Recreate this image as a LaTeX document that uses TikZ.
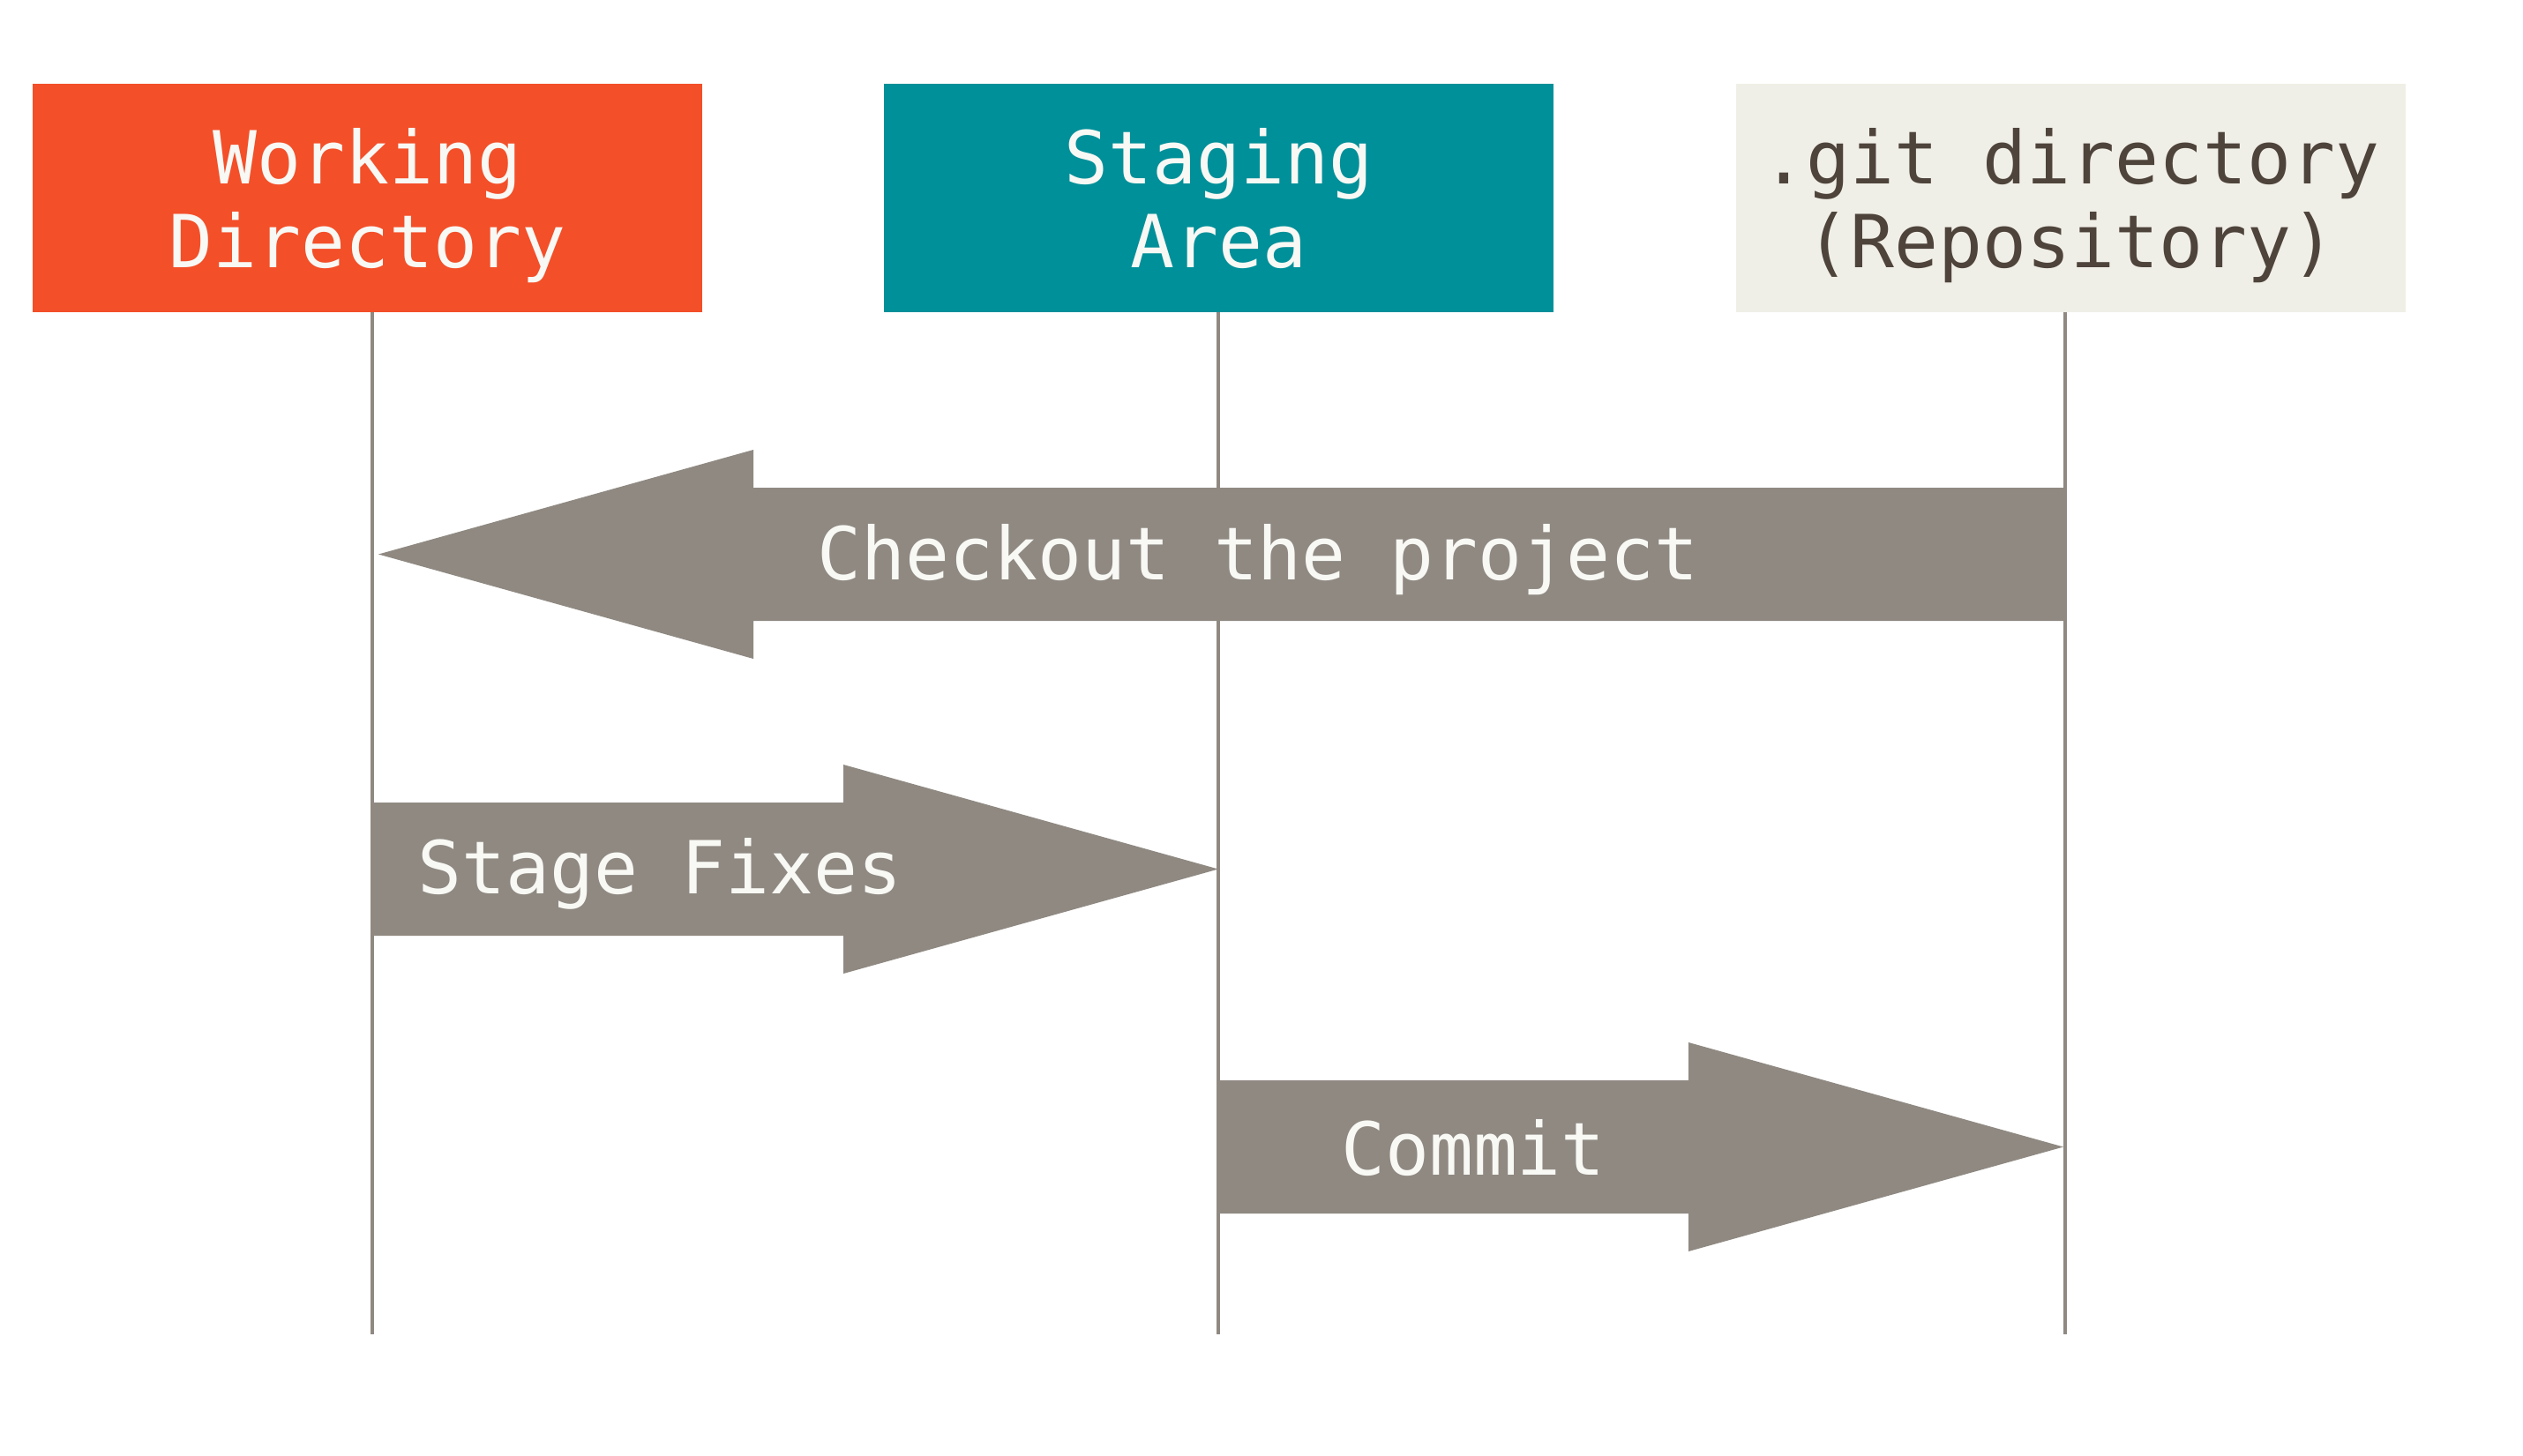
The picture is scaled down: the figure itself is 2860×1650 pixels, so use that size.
\documentclass[tikz,border=0pt]{standalone}
\usepackage{fontspec}
\setmonofont{DejaVu Sans Mono}
\usetikzlibrary{calc}
\definecolor{gitred}{HTML}{F34F29}
\definecolor{gitteal}{HTML}{009099}
\definecolor{gitgray}{HTML}{8F8982}
\definecolor{gitpaper}{HTML}{F0EFE7}
\definecolor{gitdark}{HTML}{4E443C}
\definecolor{gitwhite}{HTML}{F8F8F4}
\newcommand\gitRightArrow[2]{%
  \fill[gitgray] ($(#1)+(0,-75.5)$) -- ($(#2)+(-425,-75.5)$) -- ($(#2)+(-425,-118.5)$) -- (#2)
    -- ($(#2)+(-425,118.5)$) -- ($(#2)+(-425,75.5)$) -- ($(#1)+(0,75.5)$) -- cycle;}
\newcommand\gitLeftArrow[2]{%
  \fill[gitgray] ($(#1)+(0,-75.5)$) -- ($(#2)+(425,-75.5)$) -- ($(#2)+(425,-118.5)$) -- (#2)
    -- ($(#2)+(425,118.5)$) -- ($(#2)+(425,75.5)$) -- ($(#1)+(0,75.5)$) -- cycle;}
\begin{document}
\begin{tikzpicture}[x=1pt,y=-1pt,
  areabox/.style={rectangle, inner sep=0pt, minimum width=759pt, minimum height=259pt,
    text height=62pt, text depth=95pt, font=\ttfamily\fontsize{83}{95}\selectfont},
  lifeline/.style={draw=gitgray, line width=4pt},
  arrowlabel/.style={anchor=base, inner sep=0pt, text=gitwhite,
    font=\ttfamily\fontsize{83}{95}\selectfont}]
\fill[white] (0,0) rectangle (2860,1650);
\useasboundingbox (0,0) rectangle (2860,1650);

% boxes
\node[areabox, fill=gitred, text=gitwhite] (wd) at (416.5,224.5)
  {\parbox[t]{740pt}{\centering Working\\Directory}};
\node[areabox, fill=gitteal, text=gitwhite] (sa) at (1381.5,224.5)
  {\parbox[t]{740pt}{\centering Staging\\Area}};
\node[areabox, fill=gitpaper, text=gitdark] (git) at (2347.5,224.5)
  {\parbox[t]{740pt}{\centering .git directory\\(Repository)}};

% lifelines
\coordinate (wdend) at (422,1513);
\coordinate (saend) at (1381,1513);
\coordinate (gitend) at (2341,1513);
\draw[lifeline] (wd.south -| wdend) -- (wdend);
\draw[lifeline] (sa.south -| saend) -- (saend);
\draw[lifeline] (git.south -| gitend) -- (gitend);

% arrow end points on the lifelines
\coordinate (cotail) at (gitend |- 0,628.5);
\coordinate (cotip) at ($(wdend |- 0,628.5)+(7,0)$);
\coordinate (sftail) at (wdend |- 0,985.5);
\coordinate (sftip) at (saend |- 0,985.5);
\coordinate (cmtail) at (saend |- 0,1300.5);
\coordinate (cmtip) at ($(gitend |- 0,1300.5)+(-2,0)$);

\gitLeftArrow{cotail}{cotip}
\gitRightArrow{sftail}{sftip}
\gitRightArrow{cmtail}{cmtip}

\node[arrowlabel] (colabel) at (1426,657) {Checkout the project};
\node[arrowlabel] (sflabel) at (748,1013) {Stage Fixes};
\node[arrowlabel] (cmlabel) at (1670,1332) {Commit};
\end{tikzpicture}
\end{document}
